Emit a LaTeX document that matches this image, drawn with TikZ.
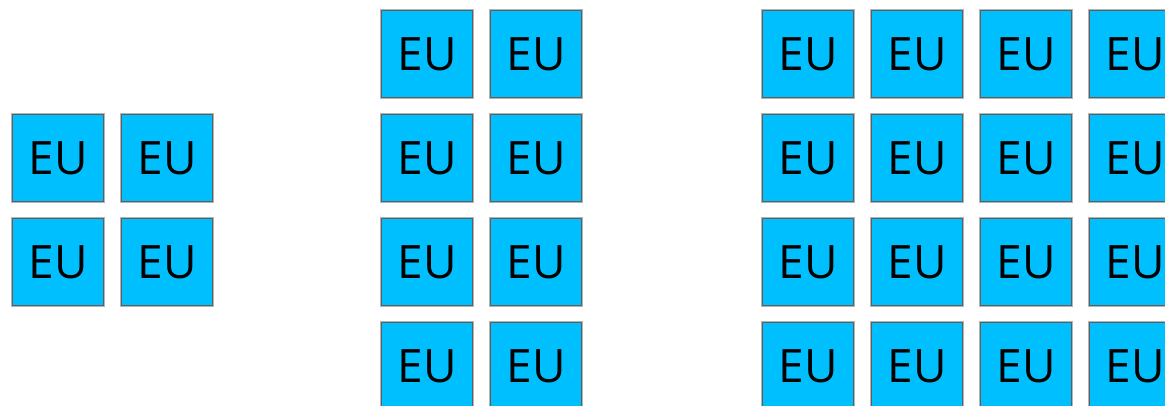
\documentclass[tikz,border=0pt]{standalone}
\usepackage{fontspec}
\setmainfont{Open Sans}
\definecolor{eufill}{HTML}{00BFFF}
\definecolor{euline}{HTML}{5E5E5E}
\definecolor{euhalo}{HTML}{B4B4B4}
\begin{document}
\begin{tikzpicture}[x=1pt,y=-1pt,
  eubox/.style={draw=euline, line width=1.4pt, fill=eufill, minimum width=91pt, minimum height=87pt,
    preaction={draw=euhalo, line width=3pt},
    inner sep=0pt, anchor=north west, font=\fontsize{46}{46}\selectfont, text=black,
    text depth=0pt, text height=0pt, align=center}]
\useasboundingbox (0,0) rectangle (1165,406);
\clip (0,0) rectangle (1165,406);
\fill[white] (0,0) rectangle (1165,406);
\tikzset{eutext/.style={}}
% left group 2x2
\foreach \c/\x in {1/12,2/121}
  \foreach \r/\y in {1/114,2/218}
    \node[eubox] (a\r\c) at (\x,\y) {\raisebox{-16.5pt}{EU}};
% middle group 2 cols x 4 rows
\foreach \c/\x in {1/381,2/490}
  \foreach \r/\y in {1/10,2/114,3/218,4/322}
    \node[eubox] (b\r\c) at (\x,\y) {\raisebox{-16.5pt}{EU}};
% right group 4 cols x 4 rows
\foreach \c/\x in {1/762,2/871,3/980,4/1089}
  \foreach \r/\y in {1/10,2/114,3/218,4/322}
    \node[eubox] (c\r\c) at (\x,\y) {\raisebox{-16.5pt}{EU}};
\end{tikzpicture}
\end{document}
